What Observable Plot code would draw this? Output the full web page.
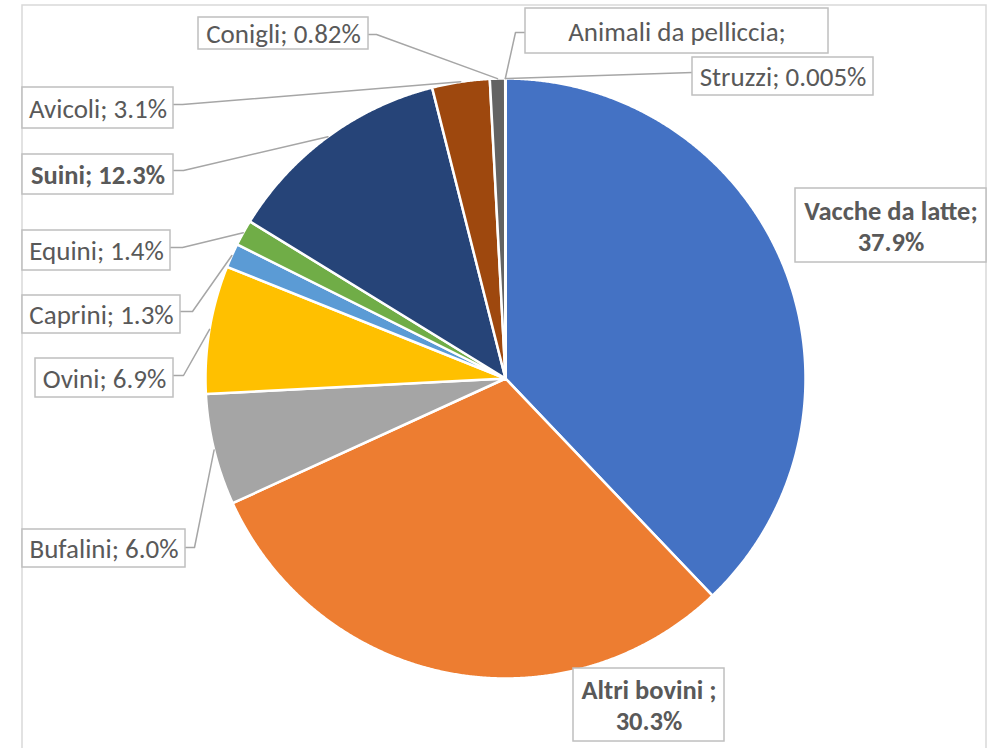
<!DOCTYPE html>
<html><head><meta charset="utf-8">
<script src="https://cdn.jsdelivr.net/npm/d3@7"></script>
<script src="https://cdn.jsdelivr.net/npm/@observablehq/plot@0.6"></script>
<style>
html,body{margin:0;padding:0;background:#fff;}
svg{font-family: Carlito, Calibri, Lato, sans-serif;}
</style></head>
<body><div id="chart"></div>
<script>
// ---- data ----
const categories = ["Vacche da latte","Altri bovini","Bufalini","Ovini","Caprini","Equini","Suini","Avicoli","Conigli","Animali da pelliccia","Struzzi"];
const values = [37.9, 30.3, 6.0, 6.9, 1.3, 1.4, 12.3, 3.1, 0.82, 0.01, 0.005];
const labelTexts = ["Vacche da latte;\n37.9%","Altri bovini ;\n30.3%","Bufalini; 6.0%","Ovini; 6.9%","Caprini; 1.3%","Equini; 1.4%","Suini; 12.3%","Avicoli; 3.1%","Conigli; 0.82%","Animali da pelliccia;","Struzzi; 0.005%"];
const boldLabels = ["Vacche da latte","Altri bovini","Suini"];
const colors = ["#4472C4","#ED7D31","#A5A5A5","#FFC000","#5B9BD5","#70AD47","#264478","#9E480E","#636363","#997300","#255E91"];

// ---- layout (pixel space of the chart) ----
const pie = {cx: 505, cy: 378, r: 300};
// label box [x1, x2, y1, y2] and elbow [x0, x1, y] (null = no leader)
const labelBoxes = {
  "Vacche da latte": {box:[795,986,188,262], elbow:null},
  "Altri bovini": {box:[573,724,668,741], elbow:null},
  "Bufalini": {box:[22,185,529,567], elbow:[185,194,547]},
  "Ovini": {box:[35,173,358,397], elbow:[173,183,375]},
  "Caprini": {box:[22,180,295,333], elbow:[180,192,311]},
  "Equini": {box:[22,170,230,270], elbow:[170,182,247]},
  "Suini": {box:[22,173,154,194], elbow:[173,183,170]},
  "Avicoli": {box:[22,173,87,128], elbow:[173,182,104]},
  "Conigli": {box:[198,368,17,49], elbow:[368,376,34]},
  "Animali da pelliccia": {box:[525,828,8,53], elbow:[525,515,32]},
  "Struzzi": {box:[692,873,57,95], elbow:[692,692,72]}
};

// ---- build slices ----
const arcs = d3.pie().sort(null).value(d => d)(values);
const slicePts = [];
const mids = [];
arcs.forEach((a, i) => {
  const name = categories[i];
  const pt = ang => ({name, x: pie.cx + pie.r * Math.sin(ang), y: pie.cy - pie.r * Math.cos(ang)});
  slicePts.push({name, x: pie.cx, y: pie.cy});
  const n = Math.max(2, Math.ceil((a.endAngle - a.startAngle) / (Math.PI / 720)));
  for (let k = 0; k <= n; k++) slicePts.push(pt(a.startAngle + (a.endAngle - a.startAngle) * k / n));
  slicePts.push({name, x: pie.cx, y: pie.cy});
  mids.push(pt((a.startAngle + a.endAngle) / 2));
});

// ---- labels ----
const boxes = [], texts = [], leaders = [];
categories.forEach((name, i) => {
  const L = labelBoxes[name];
  const [x1, x2, y1, y2] = L.box;
  boxes.push({name, x1, x2, y1, y2});
  texts.push({name, text: labelTexts[i], x: (x1 + x2) / 2, y: (y1 + y2) / 2, bold: boldLabels.includes(name)});
  if (L.elbow) {
    const [ex0, ex1, ey] = L.elbow;
    leaders.push({name, x: ex0, y: ey});
    leaders.push({name, x: ex1, y: ey});
    leaders.push({name, x: mids[i].x, y: mids[i].y});
  }
});

const chart = Plot.plot({
  width: 999, height: 748, margin: 0,
  x: {domain: [0, 999], range: [0, 999], axis: null},
  y: {domain: [0, 748], range: [0, 748], axis: null},
  color: {domain: categories, range: colors},
  marks: [
    Plot.rect([{x1: 22, x2: 986, y1: 5, y2: 770}], {x1: "x1", x2: "x2", y1: "y1", y2: "y2", fill: "none", stroke: "#d9d9d9", strokeWidth: 1.5}),
    Plot.line(slicePts, {x: "x", y: "y", z: "name", fill: "name", stroke: "white", strokeWidth: 2.5, strokeLinejoin: "round"}),
    Plot.line(leaders, {x: "x", y: "y", z: "name", stroke: "#a6a6a6", strokeWidth: 1.5}),
    Plot.rect(boxes, {x1: "x1", x2: "x2", y1: "y1", y2: "y2", fill: "white", stroke: "#bfbfbf", strokeWidth: 1.5}),
    Plot.text(texts.filter(d => !d.bold), {x: "x", y: "y", text: "text", fill: "#595959", fontSize: 27, lineHeight: 1.15}),
    Plot.text(texts.filter(d => d.bold), {x: "x", y: "y", text: "text", fill: "#595959", fontSize: 26.5, fontWeight: "bold", lineHeight: 1.17})
  ]
});
document.getElementById("chart").appendChild(chart);
</script>
</body></html>
